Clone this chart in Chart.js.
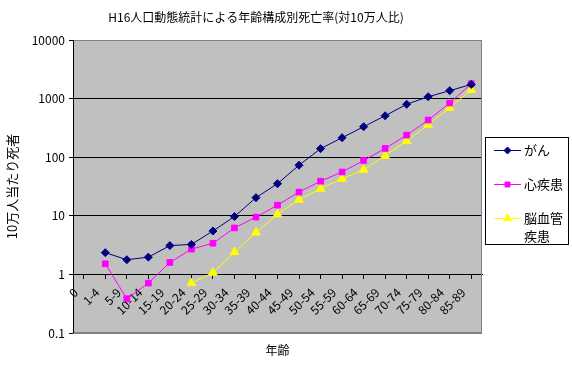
<!DOCTYPE html>
<html>
<head>
<meta charset="utf-8">
<script src="https://cdn.jsdelivr.net/npm/chart.js@4.4.1/dist/chart.umd.min.js"></script>
<style>
  html, body { margin: 0; padding: 0; background: #fff; }
  #wrap { width: 572px; height: 365px; }
</style>
</head>
<body>
<div id="wrap"><canvas id="c"></canvas></div>
<script>
const ageGroups = ['0', '1-4', '5-9', '10-14', '15-19', '20-24', '25-29', '30-34', '35-39', '40-44',
    '45-49', '50-54', '55-59', '60-64', '65-69', '70-74', '75-79', '80-84', '85-89'];
const seriesNames = ['がん', '心疾患', '脳血管疾患'];
const cancer = [null, 2.35, 1.78, 1.97, 3.1, 3.25, 5.5, 9.7, 20.4, 35.3, 73, 140, 215, 331, 510, 800, 1075, 1365, 1745];
const heart  = [null, 1.52, 0.385, 0.71, 1.6, 2.7, 3.4, 6.2, 9.5, 15.2, 25.4, 39, 56, 88, 141, 238, 430, 840, 1800];
const stroke = [null, null, null, null, null, 0.71, 1.07, 2.4, 5.2, 10.6, 18.8, 29, 43, 61, 106, 188, 359, 700, 1415];
const yTicks = [0.1, 1, 10, 100, 1000, 10000];
const chartTitle = 'H16人口動態統計による年齢構成別死亡率(対10万人比)';

const FONT = '"Noto Sans CJK JP", "Liberation Sans", sans-serif';

const plotBg = {
    id: 'plotBg',
    beforeDraw(chart) {
        const { ctx, chartArea: a } = chart;
        ctx.save();
        ctx.fillStyle = '#c0c0c0';
        ctx.fillRect(a.left, a.top, a.right - a.left, a.bottom - a.top);
        ctx.restore();
    },
    beforeDatasetsDraw(chart) {
        const { ctx, chartArea: a } = chart;
        ctx.save();
        ctx.strokeStyle = '#808080';
        ctx.lineWidth = 1;
        ctx.beginPath();
        ctx.moveTo(a.left, a.top + 0.5);
        ctx.lineTo(a.right - 0.5, a.top + 0.5);
        ctx.lineTo(a.right - 0.5, a.bottom - 0.5);
        ctx.lineTo(a.left, a.bottom - 0.5);
        ctx.stroke();
        ctx.strokeStyle = '#000';
        ctx.beginPath();
        ctx.moveTo(a.left + 0.5, a.top);
        ctx.lineTo(a.left + 0.5, a.bottom);
        ctx.stroke();

        // category labels hang under the axis line at 1, slanted 45 degrees
        const xs = chart.scales.x, ys = chart.scales.y;
        const base = ys.getPixelForValue(1);
        ctx.fillStyle = '#000';
        ctx.font = '12px ' + FONT;
        ctx.textAlign = 'right';
        ctx.textBaseline = 'middle';
        ageGroups.forEach((lab, i) => {
            const px = xs.getPixelForTick(i);
            ctx.save();
            ctx.translate(px - 8, base + 16);
            ctx.rotate(-Math.PI / 4);
            ctx.fillText(lab, 0, 0);
            ctx.restore();
        });
        ctx.restore();
    },
    afterDraw(chart) {
        const { ctx, chartArea: a } = chart;
        ctx.save();
        ctx.fillStyle = '#000';
        ctx.font = '12px ' + FONT;
        ctx.textAlign = 'center';
        ctx.textBaseline = 'middle';
        ctx.fillText('年齢', (a.left + a.right) / 2, 350);
        ctx.fillText(chartTitle, 256, 17);
        ctx.restore();
    }
};

// boxed legend on the right, like the spreadsheet one
const boxLegend = {
    id: 'boxLegend',
    afterDraw(chart) {
        const ctx = chart.ctx;
        const bx = 485, by = 137, bw = 84, bh = 108;
        ctx.save();
        ctx.fillStyle = '#fff';
        ctx.fillRect(bx, by, bw, bh);
        ctx.strokeStyle = '#000';
        ctx.lineWidth = 1;
        ctx.strokeRect(bx + 0.5, by + 0.5, bw - 1, bh - 1);
        ctx.font = '13px ' + FONT;
        ctx.textBaseline = 'middle';
        ctx.textAlign = 'left';
        const rows = [150, 184, 218];
        chart.data.datasets.forEach((ds, i) => {
            const y = rows[i];
            ctx.strokeStyle = ds.borderColor;
            ctx.fillStyle = ds.backgroundColor;
            ctx.lineWidth = 1;
            ctx.beginPath();
            ctx.moveTo(494, y + 0.5);
            ctx.lineTo(521, y + 0.5);
            ctx.stroke();
            Chart.helpers.drawPoint(ctx, {
                pointStyle: ds.pointStyle,
                radius: ds.pointRadius - 0.5,
                rotation: 0,
                borderWidth: 1
            }, 507.5, y + 0.5);
            // wrap the label to the box width
            ctx.fillStyle = '#000';
            const lines = [];
            let cur = '';
            for (const ch of ds.label) {
                if (ctx.measureText(cur + ch).width > 42 && cur) { lines.push(cur); cur = ch; }
                else cur += ch;
            }
            lines.push(cur);
            lines.forEach((t, k) => ctx.fillText(t, 524, y + k * 18));
        });
        ctx.restore();
    }
};

function styleFor(color, shape, r) {
    return {
        borderColor: color,
        backgroundColor: color,
        pointBackgroundColor: color,
        pointBorderColor: color,
        pointStyle: shape,
        pointRadius: r,
        pointHoverRadius: r,
        borderWidth: 1,
        tension: 0
    };
}

new Chart(document.getElementById('c'), {
    type: 'line',
    data: {
        labels: ageGroups,
        datasets: [
            Object.assign({ label: seriesNames[0], data: cancer }, styleFor('#000080', 'rectRot', 4)),
            Object.assign({ label: seriesNames[1], data: heart }, styleFor('#ff00ff', 'rect', 4)),
            Object.assign({ label: seriesNames[2], data: stroke }, styleFor('#ffff00', 'triangle', 5))
        ]
    },
    options: {
        responsive: true,
        maintainAspectRatio: false,
        animation: false,
        layout: { padding: { top: 40, right: 90, bottom: 32, left: 0 } },
        plugins: {
            legend: { display: false },
            tooltip: { enabled: false },
            title: { display: false }
        },
        scales: {
            x: {
                type: 'category',
                position: { y: 1 },
                offset: true,
                border: { display: true, color: '#000', width: 1 },
                grid: { display: true, drawOnChartArea: false, drawTicks: true, tickLength: 4, color: '#000' },
                ticks: { display: false }
            },
            y: {
                type: 'logarithmic',
                min: 0.1,
                max: 10000,
                afterBuildTicks: s => { s.ticks = yTicks.map(v => ({ value: v })); },
                afterFit: s => { s.width = 73; },
                border: { display: false },
                grid: {
                    color: c => (c.tick && (c.tick.value === 10000 || c.tick.value === 0.1)) ? '#808080' : '#000',
                    tickColor: '#000',
                    tickLength: 4,
                    lineWidth: 1
                },
                ticks: {
                    color: '#000', padding: 4,
                    font: { family: FONT, size: 12 },
                    callback: v => String(v)
                },
                title: {
                    display: true,
                    text: '10万人当たり死者',
                    color: '#000',
                    font: { family: FONT, size: 13 },
                    padding: { top: 4, bottom: 0 }
                }
            }
        }
    },
    plugins: [plotBg, boxLegend]
});
</script>
</body>
</html>
